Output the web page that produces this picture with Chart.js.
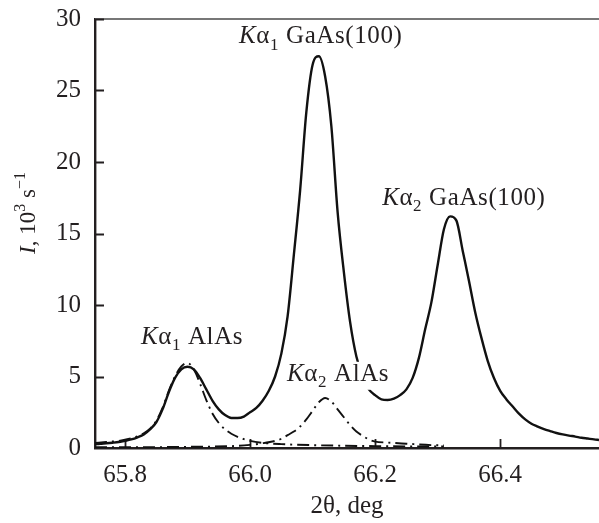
<!DOCTYPE html>
<html>
<head>
<meta charset="utf-8">
<script src="https://cdn.jsdelivr.net/npm/chart.js@4/dist/chart.umd.min.js"></script>
<style>
  body { margin: 0; background: #fff; }
  canvas { display: block; }
</style>
</head>
<body>
<canvas id="chart" width="599" height="523"></canvas>
<script>
// measured curve: total intensity (10^3 1/s) against 2-theta (deg)
const solidDeg = [65.752, 65.76, 65.77, 65.78, 65.79, 65.80, 65.81, 65.82, 65.83, 65.84,
  65.85, 65.86, 65.87, 65.88, 65.89, 65.90, 65.91, 65.92, 65.93, 65.94,
  65.95, 65.96, 65.97, 65.98, 65.99, 66.00, 66.01, 66.02, 66.03, 66.04,
  66.05, 66.06, 66.07, 66.08, 66.09, 66.10, 66.11, 66.12, 66.13, 66.14,
  66.15, 66.16, 66.17, 66.18, 66.19, 66.20, 66.21, 66.22, 66.23, 66.24,
  66.25, 66.26, 66.27, 66.28, 66.29, 66.30, 66.31, 66.32, 66.33, 66.34,
  66.35, 66.36, 66.37, 66.38, 66.39, 66.40, 66.41, 66.42, 66.43, 66.44,
  66.45, 66.46, 66.47, 66.48, 66.49, 66.50, 66.51, 66.52, 66.53, 66.54,
  66.55, 66.558];
const solidIntensity = [0.26, 0.3, 0.33, 0.37, 0.42, 0.5, 0.6, 0.75, 0.95, 1.3,
  1.8, 2.7, 3.9, 4.9, 5.5, 5.68, 5.5, 4.9, 4.1, 3.3,
  2.7, 2.3, 2.1, 2.1, 2.2, 2.5, 2.8, 3.3, 4.0, 5.0,
  6.6, 9.2, 13.5, 18.0, 23.5, 26.8, 27.4, 26.0, 22.5, 16.5,
  12.3, 8.8, 6.4, 5.0, 4.1, 3.7, 3.4, 3.36, 3.45, 3.7,
  4.1, 4.9, 6.3, 8.3, 10.2, 12.8, 15.3, 16.2, 15.9, 13.8,
  11.7, 9.5, 7.7, 6.1, 4.9, 4.0, 3.4, 2.9, 2.4, 2.0,
  1.7, 1.5, 1.32, 1.18, 1.05, 0.95, 0.87, 0.8, 0.72, 0.66,
  0.6, 0.56];

// fitted K-alpha1 AlAs component
const alAs1Deg = [65.752, 65.77, 65.79, 65.80, 65.81, 65.82, 65.83, 65.84, 65.85, 65.86,
  65.87, 65.88, 65.89, 65.90, 65.91, 65.92, 65.93, 65.94, 65.95, 65.96,
  65.97, 65.98, 65.99, 66.00, 66.02, 66.05, 66.10, 66.20, 66.31];
const alAs1Intensity = [0.35, 0.42, 0.5, 0.58, 0.68, 0.82, 1.02, 1.35, 1.9, 2.8,
  4.0, 5.0, 5.7, 5.95, 5.5, 4.5, 3.35, 2.4, 1.75, 1.3,
  1.0, 0.78, 0.62, 0.5, 0.36, 0.27, 0.2, 0.13, 0.1];

// fitted K-alpha2 AlAs component
const alAs2Deg = [65.752, 65.90, 65.98, 66.00, 66.02, 66.04, 66.05, 66.06, 66.07, 66.08,
  66.09, 66.10, 66.11, 66.12, 66.13, 66.14, 66.15, 66.16, 66.17, 66.18,
  66.19, 66.20, 66.22, 66.25, 66.29, 66.31];
const alAs2Intensity = [0.05, 0.08, 0.15, 0.22, 0.33, 0.5, 0.65, 0.9, 1.15, 1.5,
  2.0, 2.6, 3.2, 3.5, 3.25, 2.7, 2.15, 1.6, 1.15, 0.85,
  0.6, 0.45, 0.38, 0.3, 0.2, 0.18];

const xTicks = [65.8, 66.0, 66.2, 66.4];
const yTicks = [0, 5, 10, 15, 20, 25, 30];

const SERIF = '"Liberation Serif", "Times New Roman", serif';
const INK = '#231f20';

const toPoints = (xs, ys) => xs.map((x, i) => ({ x, y: ys[i] }));

// peak labels: italic K, alpha, subscript index, then the rest
const peakLabels = [
  { deg: 65.9824, val: 28.3, idx: '1', rest: ' GaAs(100)' },
  { deg: 66.2112, val: 17.0, idx: '2', rest: ' GaAs(100)' },
  { deg: 65.8256, val: 7.3, idx: '1', rest: ' AlAs' },
  { deg: 66.0592, val: 4.7, idx: '2', rest: ' AlAs', backdrop: true },
];

function setFont(ctx, p, size) {
  const s = p.small ? Math.round(size * 0.68) : size;
  ctx.font = (p.italic ? 'italic ' : '') + s + 'px ' + SERIF;
}

function measurePieces(ctx, pieces, size) {
  let w = 0;
  pieces.forEach(p => {
    setFont(ctx, p, size);
    w += ctx.measureText(p.t).width;
  });
  return w;
}

function drawPieces(ctx, x, y, pieces, size) {
  let cx = x;
  pieces.forEach(p => {
    setFont(ctx, p, size);
    const dy = p.sub ? size * 0.25 : (p.sup ? -size * 0.42 : 0);
    ctx.fillText(p.t, cx, y + dy);
    cx += ctx.measureText(p.t).width;
  });
}

const framePlugin = {
  id: 'frame',
  beforeDatasetsDraw(chart) {
    const { ctx, chartArea: a, scales: { x, y } } = chart;
    ctx.save();
    // top frame line
    ctx.strokeStyle = '#777';
    ctx.lineWidth = 2;
    ctx.beginPath();
    ctx.moveTo(a.left, a.top);
    ctx.lineTo(a.right, a.top);
    ctx.stroke();
    // inward ticks
    ctx.strokeStyle = INK;
    ctx.lineWidth = 1.8;
    ctx.beginPath();
    yTicks.slice(1).forEach(v => {
      const py = Math.round(y.getPixelForValue(v)) + 0.5;
      ctx.moveTo(a.left, py);
      ctx.lineTo(a.left + 9, py);
    });
    xTicks.forEach(v => {
      const px = Math.round(x.getPixelForValue(v)) + 0.5;
      ctx.moveTo(px, a.bottom);
      ctx.lineTo(px, a.bottom - 9);
    });
    ctx.stroke();
    ctx.restore();
  },
  afterDraw(chart) {
    const { ctx, chartArea: a, scales: { x, y } } = chart;
    ctx.save();
    ctx.fillStyle = INK;
    ctx.textBaseline = 'alphabetic';
    ctx.textAlign = 'left';
    ctx.letterSpacing = '0.6px';
    peakLabels.forEach(l => {
      const pieces = [
        { t: 'K', italic: true },
        { t: '\u03b1' },
        { t: l.idx, small: true, sub: true },
        { t: l.rest },
      ];
      const px = x.getPixelForValue(l.deg);
      const py = y.getPixelForValue(l.val);
      if (l.backdrop) {
        const w = measurePieces(ctx, pieces, 25);
        ctx.fillStyle = '#fff';
        ctx.fillRect(px - 2, py - 19, w + 4, 28);
        ctx.fillStyle = INK;
      }
      drawPieces(ctx, px, py, pieces, 25);
    });

    // y axis title, rotated
    ctx.letterSpacing = '0px';
    const yTitle = [
      { t: 'I', italic: true },
      { t: ', 10' },
      { t: '3', small: true, sup: true },
      { t: ' s' },
      { t: '\u22121', small: true, sup: true },
    ];
    const w = measurePieces(ctx, yTitle, 23);
    ctx.translate(35, 213);
    ctx.rotate(-Math.PI / 2);
    drawPieces(ctx, -w / 2, 0, yTitle, 23);
    ctx.restore();
  },
};

new Chart(document.getElementById('chart'), {
  type: 'line',
  data: {
    datasets: [
      {
        label: 'Total',
        data: toPoints(solidDeg, solidIntensity),
        borderColor: '#111',
        borderWidth: 2.4,
        pointRadius: 0,
        cubicInterpolationMode: 'monotone',
        fill: false,
      },
      {
        label: 'K\u03b11 AlAs',
        data: toPoints(alAs1Deg, alAs1Intensity),
        borderColor: '#111',
        borderWidth: 1.9,
        borderDash: [12, 5, 2, 5],
        pointRadius: 0,
        cubicInterpolationMode: 'monotone',
        fill: false,
      },
      {
        label: 'K\u03b12 AlAs',
        data: toPoints(alAs2Deg, alAs2Intensity),
        borderColor: '#111',
        borderWidth: 1.9,
        borderDash: [12, 5, 2, 5],
        pointRadius: 0,
        cubicInterpolationMode: 'monotone',
        fill: false,
      },
    ],
  },
  options: {
    responsive: false,
    animation: false,
    layout: { padding: { top: 19, right: 0, bottom: 0, left: 0 } },
    plugins: {
      legend: { display: false },
      tooltip: { enabled: false },
    },
    scales: {
      x: {
        type: 'linear',
        min: 65.752,
        max: 66.558,
        afterBuildTicks: scale => { scale.ticks = xTicks.map(v => ({ value: v })); },
        afterFit: scale => {
          scale.height = 75;
          scale.paddingLeft = 0;
          scale.paddingRight = 0;
        },
        grid: { display: false, drawTicks: false },
        border: { display: true, color: INK, width: 2.4 },
        ticks: {
          padding: 12,
          color: INK,
          font: { family: SERIF, size: 25 },
          callback: v => v.toFixed(1),
          maxRotation: 0,
        },
        title: {
          display: true,
          text: '2\u03b8, deg',
          color: INK,
          font: { family: SERIF, size: 25 },
          padding: { top: 0, bottom: 2 },
        },
      },
      y: {
        min: 0,
        max: 30,
        afterBuildTicks: scale => { scale.ticks = yTicks.map(v => ({ value: v })); },
        afterFit: scale => {
          scale.width = 95;
          scale.paddingTop = 0;
          scale.paddingBottom = 0;
        },
        grid: { display: false, drawTicks: false },
        border: { display: true, color: INK, width: 2.4 },
        ticks: {
          padding: 14,
          color: INK,
          font: { family: SERIF, size: 25 },
        },
      },
    },
  },
  plugins: [framePlugin],
});
</script>
</body>
</html>
